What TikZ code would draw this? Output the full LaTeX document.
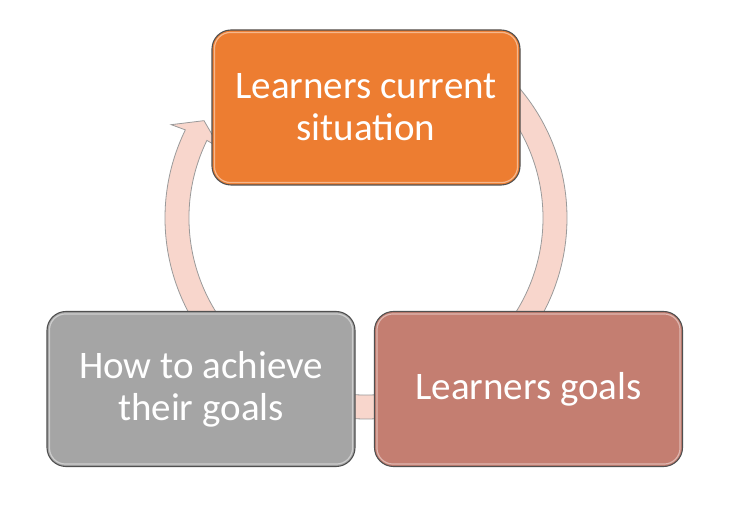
\documentclass[tikz,border=0pt]{standalone}
\usepackage{fontspec}
\setmainfont{Carlito}
\usetikzlibrary{calc}
\definecolor{orangebox}{HTML}{ED7D31}
\definecolor{greybox}{HTML}{A5A5A5}
\definecolor{brownbox}{HTML}{C47E71}
\definecolor{arrowfill}{HTML}{F8D6CC}
\definecolor{arrowline}{HTML}{9A9A9A}
\definecolor{boxline}{HTML}{505050}
\tikzset{
  stage/.style={draw=boxline, line width=1.1pt, rounded corners=19pt,
    minimum width=308pt, minimum height=155pt, inner sep=0pt,
    text=white, align=center,
    font=\fontsize{39}{42}\selectfont},
  bevel/.style={draw=white, opacity=0.45, line width=1.2pt, rounded corners=16pt},
  cyclearrow/.style={fill=arrowfill, draw=arrowline, line width=0.8pt, line join=miter}
}
\begin{document}
\begin{tikzpicture}[x=1pt,y=1pt]
\useasboundingbox (0,0) rectangle (740,512);
\coordinate (c) at (366,294);
% circular arrow behind boxes
\draw[cyclearrow]
  ([shift={(c)}]45:201pt) arc[start angle=45, end angle=-206, radius=201pt]
  -- ([shift={(c)}]154.4:216pt)
  -- ([shift={(c)}]149:189pt)
  -- ([shift={(c)}]154.4:162pt)
  -- ([shift={(c)}]154:177pt)
  arc[start angle=154, end angle=405, radius=177pt] -- cycle;
% boxes
\node[stage, fill=orangebox] (top) at (366,404.5) {Learners current\\situation};
\node[stage, fill=greybox] (left) at (201,123) {How to achieve\\their goals};
\node[stage, fill=brownbox] (right) at (528.5,123) {Learners goals};
\foreach \n in {top,left,right}{
  \draw[bevel] ([shift={(3pt,-3pt)}]\n.north west) rectangle ([shift={(-3pt,3pt)}]\n.south east);
}
\end{tikzpicture}
\end{document}
